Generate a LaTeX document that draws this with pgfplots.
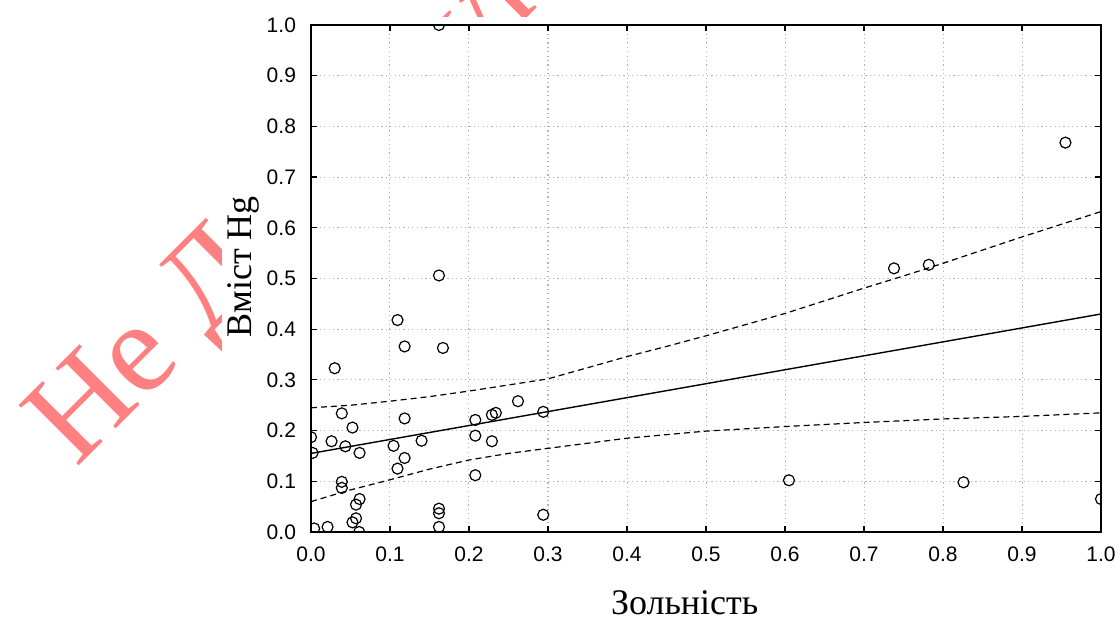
\documentclass[border=0pt]{standalone}
\usepackage{fontspec}
\setmainfont{Liberation Serif}
\newfontfamily\arialf{Liberation Sans}
\usepackage{pgfplots}
\pgfplotsset{compat=1.18}
\definecolor{wm}{RGB}{255,128,128}
\begin{document}
\begin{tikzpicture}
\useasboundingbox (-155.5pt,-44.5pt) rectangle (402pt,266pt);
\clip (-155.5pt,-44.5pt) rectangle (402pt,266pt);
\node[rotate=45, anchor=base west, text=wm, font=\fontsize{65}{68}\selectfont, inner sep=0pt] at (-117.5pt,31.5pt) {Не Для друку};
\fill[white] (-44.5pt,-44.5pt) rectangle (402pt,257.5pt);
\begin{axis}[
  scale only axis, width=395pt, height=253.5pt,
  xmin=0, xmax=1, ymin=0, ymax=1,
  xtick={0,0.1,0.2,0.3,0.4,0.5,0.6,0.7,0.8,0.9,1},
  ytick={0,0.1,0.2,0.3,0.4,0.5,0.6,0.7,0.8,0.9,1},
  xticklabels={0.0,0.1,0.2,0.3,0.4,0.5,0.6,0.7,0.8,0.9,1.0},
  yticklabels={0.0,0.1,0.2,0.3,0.4,0.5,0.6,0.7,0.8,0.9,1.0},
  /pgf/number format/assume math mode=true,
  ticklabel style={font=\arialf\fontsize{10.5}{12}\selectfont},
  xticklabel style={yshift=-4pt},
  yticklabel style={xshift=-4pt},
  axis line style={line width=1pt},
  tick style={black, line width=0.6pt},
  major tick length=3pt, tick align=inside,
  grid=major,
  grid style={gray!60, line width=0.5pt, dash pattern=on 0.6pt off 1.6pt},
  xlabel={Зольність},
  ylabel={Вміст Hg},
  xlabel style={at={(axis description cs:0.473,-0.14)}, anchor=center, font=\fontsize{18}{20}\selectfont},
  ylabel style={at={(axis description cs:-0.086,0.523)}, anchor=center, font=\fontsize{18}{20}\selectfont},
  clip marker paths=true,
]
\addplot[black, line width=0.7pt] coordinates {(0,0.155) (1,0.43)};
\addplot[black, line width=0.6pt, dash pattern=on 3pt off 2pt] coordinates {
(0,0.245)(0.05,0.250)(0.1,0.258)(0.15,0.267)(0.2,0.278)(0.25,0.290)(0.3,0.302)(0.35,0.324)(0.4,0.346)(0.45,0.366)(0.5,0.387)(0.55,0.409)(0.6,0.431)(0.65,0.456)(0.7,0.481)(0.75,0.505)(0.8,0.530)(0.85,0.556)(0.9,0.582)(0.95,0.607)(1.0,0.632)};
\addplot[black, line width=0.6pt, dash pattern=on 3pt off 2pt] coordinates {
(0,0.060)(0.05,0.083)(0.1,0.103)(0.15,0.124)(0.2,0.142)(0.25,0.155)(0.3,0.165)(0.4,0.185)(0.5,0.199)(0.6,0.208)(0.7,0.216)(0.8,0.223)(0.9,0.228)(1.0,0.235)};
\addplot[only marks, mark=o, mark size=2.75pt, mark options={line width=0.6pt, black}] coordinates {
(0.162,1.0)(0.162,0.506)(0.1095,0.418)(0.1185,0.366)(0.167,0.363)(0.030,0.323)
(0.039,0.234)(0.1185,0.224)(0.0525,0.206)(0.0,0.187)(0.026,0.179)(0.0435,0.169)
(0.002,0.156)(0.0615,0.156)(0.1045,0.170)(0.140,0.180)(0.1185,0.146)(0.1095,0.125)
(0.039,0.099)(0.039,0.087)(0.0615,0.065)(0.057,0.054)(0.057,0.027)(0.0525,0.019)
(0.061,0.0)(0.004,0.007)(0.021,0.010)(0.162,0.046)(0.162,0.037)(0.162,0.010)
(0.208,0.221)(0.208,0.190)(0.208,0.112)(0.229,0.231)(0.234,0.235)(0.229,0.179)
(0.262,0.258)(0.294,0.237)(0.294,0.034)(0.738,0.520)(0.782,0.527)(0.605,0.102)
(0.826,0.098)(1.0,0.065)(0.955,0.768)};
\end{axis}
\end{tikzpicture}
\end{document}
